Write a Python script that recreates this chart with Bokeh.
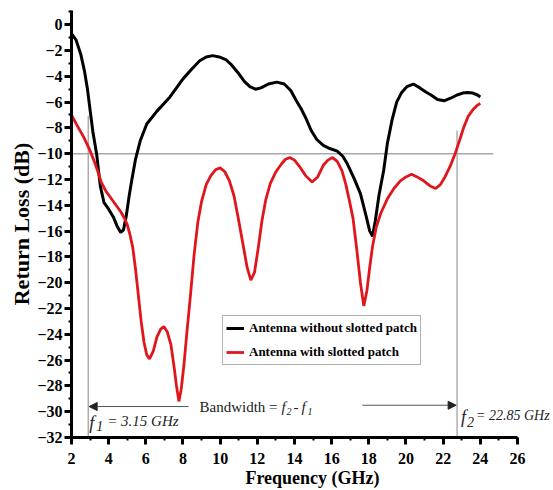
from bokeh.plotting import figure
from bokeh.models import (Range1d, SingleIntervalTicker, Label, Arrow, NormalHead,
                          Legend, LegendItem)
from bokeh.embed import file_html
from bokeh.resources import INLINE

# ---- data ----
freq_without = [2.0, 2.25, 2.5, 2.7, 2.85, 3.0, 3.15, 3.35, 3.55, 3.75, 4.0, 4.25, 4.45, 4.65,
                4.8, 4.95, 5.1, 5.25, 5.45, 5.7, 6.05, 6.6, 7.3, 8.0, 8.5, 8.9, 9.25, 9.6,
                9.95, 10.3, 10.6, 10.95, 11.3, 11.6, 11.9, 12.2, 12.6, 13.05, 13.45, 13.8,
                14.1, 14.35, 14.6, 14.9, 15.2, 15.55, 15.9, 16.3, 16.6, 16.85, 17.2, 17.55,
                17.85, 18.05, 18.2, 18.35, 18.55, 18.8, 19.0, 19.25, 19.5, 19.75, 20.05,
                20.4, 20.75, 21.05, 21.35, 21.7, 22.05, 22.4, 22.75, 23.05, 23.3, 23.6,
                23.85, 24.0]
rl_without = [-0.7, -1.2, -2.3, -3.6, -4.9, -6.6, -8.3, -10.0, -12.5, -13.8, -14.3, -14.9,
              -15.6, -16.1, -15.9, -14.8, -13.3, -12.0, -10.4, -9.0, -7.7, -6.7, -5.6, -4.2,
              -3.4, -2.8, -2.5, -2.4, -2.5, -2.7, -3.1, -3.7, -4.4, -4.8, -5.0, -4.9, -4.6,
              -4.45, -4.6, -5.1, -5.9, -6.5, -7.2, -8.2, -8.9, -9.35, -9.6, -9.8, -10.2,
              -10.8, -11.9, -13.1, -14.8, -16.0, -16.4, -15.2, -13.2, -11.3, -9.2, -7.4,
              -6.0, -5.3, -4.8, -4.6, -4.9, -5.2, -5.45, -5.8, -5.9, -5.7, -5.45, -5.3,
              -5.25, -5.3, -5.45, -5.6]

freq_with = [2.0, 2.3, 2.65, 2.95, 3.2, 3.4, 3.6, 3.85, 4.1, 4.4, 4.65, 4.85, 5.0, 5.15, 5.3,
             5.45, 5.6, 5.75, 5.9, 6.05, 6.2, 6.4, 6.6, 6.8, 6.97, 7.15, 7.35, 7.5, 7.65,
             7.78, 7.9, 8.05, 8.2, 8.4, 8.6, 8.8, 9.0, 9.25, 9.5, 9.75, 10.0, 10.25, 10.5,
             10.75, 11.0, 11.25, 11.45, 11.65, 11.85, 12.05, 12.25, 12.45, 12.7, 13.0,
             13.3, 13.5, 13.75, 14.0, 14.3, 14.6, 14.95, 15.25, 15.55, 15.8, 16.05, 16.3,
             16.55, 16.75, 16.95, 17.15, 17.35, 17.55, 17.73, 17.9, 18.05, 18.2, 18.4,
             18.65, 19.0, 19.35, 19.7, 20.0, 20.3, 20.6, 20.95, 21.3, 21.6, 21.85, 22.1,
             22.4, 22.67, 22.9, 23.1, 23.35, 23.6, 23.8, 24.0]
rl_with = [-7.0, -7.8, -8.7, -9.6, -10.5, -11.3, -12.2, -12.9, -13.4, -14.0, -14.5, -15.0,
           -15.5, -16.3, -17.3, -19.0, -21.0, -23.0, -24.6, -25.6, -25.9, -25.3, -24.2,
           -23.6, -23.4, -23.8, -24.8, -26.3, -28.0, -29.2, -28.3, -26.4, -24.0, -21.0,
           -17.8, -15.3, -13.7, -12.4, -11.7, -11.25, -11.1, -11.4, -12.1, -13.3, -15.2,
           -17.2, -18.8, -19.8, -19.2, -17.3, -15.2, -13.6, -12.3, -11.4, -10.8, -10.45,
           -10.3, -10.5, -11.05, -11.7, -12.2, -11.8, -10.9, -10.5, -10.3, -10.6, -11.3,
           -12.3, -13.6, -15.0, -17.4, -20.0, -21.8, -20.6, -18.8, -17.2, -15.7, -14.6,
           -13.5, -12.7, -12.1, -11.8, -11.6, -11.8, -12.1, -12.5, -12.7, -12.4, -11.8,
           -10.9, -9.9, -8.9, -8.0, -7.1, -6.6, -6.3, -6.1]

series_names = ["Antenna without slotted patch", "Antenna with slotted patch"]
x_axis_label = "Frequency (GHz)"
y_axis_label = "Return Loss (dB)"

threshold_db = -10
threshold_end = 24.7
f1_mark = 2.9      # where the f1 marker line sits in the picture
f2_mark = 22.75    # where the f2 marker line sits in the picture
f1_line_top = -7.05
f2_line_top = -8.2
arrow_y = -29.6
left_arrow_start = 8.3
right_arrow_start = 17.65

SERIF = "Liberation Serif"
RED = "#e0161c"

p = figure(width=553, height=490, output_backend="svg", toolbar_location=None,
           x_range=Range1d(2, 27.94), y_range=Range1d(-32, 1.1),
           min_border_left=71, min_border_right=0, min_border_top=10, min_border_bottom=53)
p.outline_line_color = None
p.grid.visible = False
p.background_fill_color = "white"

# reference lines
p.segment(x0=[2], y0=[threshold_db], x1=[threshold_end], y1=[threshold_db],
          line_color="#a8a8a8", line_width=1.5)
p.segment(x0=[f1_mark, f2_mark], y0=[f1_line_top, f2_line_top], x1=[f1_mark, f2_mark],
          y1=[-32, -32], line_color="#9a9a9a", line_width=1.2)

r1 = p.line(freq_without, rl_without, line_color="black", line_width=3)
r2 = p.line(freq_with, rl_with, line_color=RED, line_width=2.8)

legend = Legend(items=[LegendItem(label=series_names[0], renderers=[r1]),
                       LegendItem(label=series_names[1], renderers=[r2])],
                location=(151, 72))
legend.label_text_font = SERIF
legend.label_text_font_style = "bold"
legend.label_text_font_size = "13px"
legend.label_text_color = "black"
legend.glyph_width = 18
legend.glyph_height = 18
legend.label_height = 18
legend.label_standoff = 5
legend.spacing = 6
legend.padding = 3
legend.margin = 0
legend.border_line_color = "#666666"
legend.border_line_width = 1
legend.background_fill_alpha = 1
p.add_layout(legend)

# arrows
p.add_layout(Arrow(x_start=left_arrow_start, y_start=arrow_y, x_end=f1_mark + 0.05, y_end=arrow_y,
                   line_color="#555555", line_width=1,
                   end=NormalHead(size=8, fill_color="#222222", line_color="#222222")))
p.add_layout(Arrow(x_start=right_arrow_start, y_start=arrow_y + 0.1, x_end=f2_mark - 0.05,
                   y_end=arrow_y + 0.1, line_color="#555555", line_width=1,
                   end=NormalHead(size=8, fill_color="#222222", line_color="#222222")))

def lab(x, y, text, xo=0, yo=0, size="15px", style="normal"):
    p.add_layout(Label(x=x, y=y, text=text, x_offset=xo, y_offset=yo,
                       text_font=SERIF, text_font_size=size, text_font_style=style,
                       text_color="#222222", text_baseline="middle", text_align="left"))

# Bandwidth = f2 - f1
lab(8.89, arrow_y, "Bandwidth = ")
lab(8.89, arrow_y, "f", xo=82, style="italic")
lab(8.89, arrow_y, "2", xo=87, yo=-5, size="10px", style="italic")
lab(8.89, arrow_y, "-", xo=94)
lab(8.89, arrow_y, "f", xo=102, style="italic")
lab(8.89, arrow_y, "1", xo=108, yo=-5, size="10px", style="italic")

# f1 = 3.15 GHz
lab(f1_mark, -30.9, "f", xo=1, size="18px", style="italic")
lab(f1_mark, -30.9, "1", xo=8, yo=-3, size="14px", style="italic")
lab(f1_mark, -30.9, "= 3.15 GHz", xo=19, yo=2, size="15px", style="italic")

# f2 = 22.85 GHz
lab(f2_mark, -30.4, "f", xo=4, size="18px", style="italic")
lab(f2_mark, -30.4, "2", xo=10, yo=-5, size="14px", style="italic")
lab(f2_mark, -30.4, "= 22.85 GHz", xo=19, yo=1, size="14px", style="italic")

# axes
for ax, lbl in ((p.xaxis[0], x_axis_label), (p.yaxis[0], y_axis_label)):
    ax.ticker = SingleIntervalTicker(interval=2, num_minor_ticks=2)
    ax.axis_label = lbl
    ax.axis_label_text_font = SERIF
    ax.axis_label_text_font_style = "bold"
    ax.axis_label_text_color = "black"
    ax.major_label_text_font = SERIF
    ax.major_label_text_font_style = "bold"
    ax.major_label_text_font_size = "16px"
    ax.major_label_text_color = "black"
    ax.axis_line_width = 3
    ax.axis_line_color = "black"
    ax.major_tick_line_width = 3
    ax.major_tick_line_color = "black"
    ax.minor_tick_line_width = 2
    ax.minor_tick_line_color = "black"
    ax.major_tick_in = 0
    ax.minor_tick_in = 0
    ax.major_tick_out = 7
    ax.minor_tick_out = 3

p.xaxis.bounds = (2, 26)
p.xaxis.axis_label_text_font_size = "18px"
p.yaxis.axis_label_text_font_size = "22px"
p.xaxis.major_label_standoff = 8
p.xaxis.axis_label_standoff = 1
p.yaxis.major_label_standoff = 2
p.yaxis.axis_label_standoff = 0

open("out.html", "w").write(file_html(p, INLINE))
